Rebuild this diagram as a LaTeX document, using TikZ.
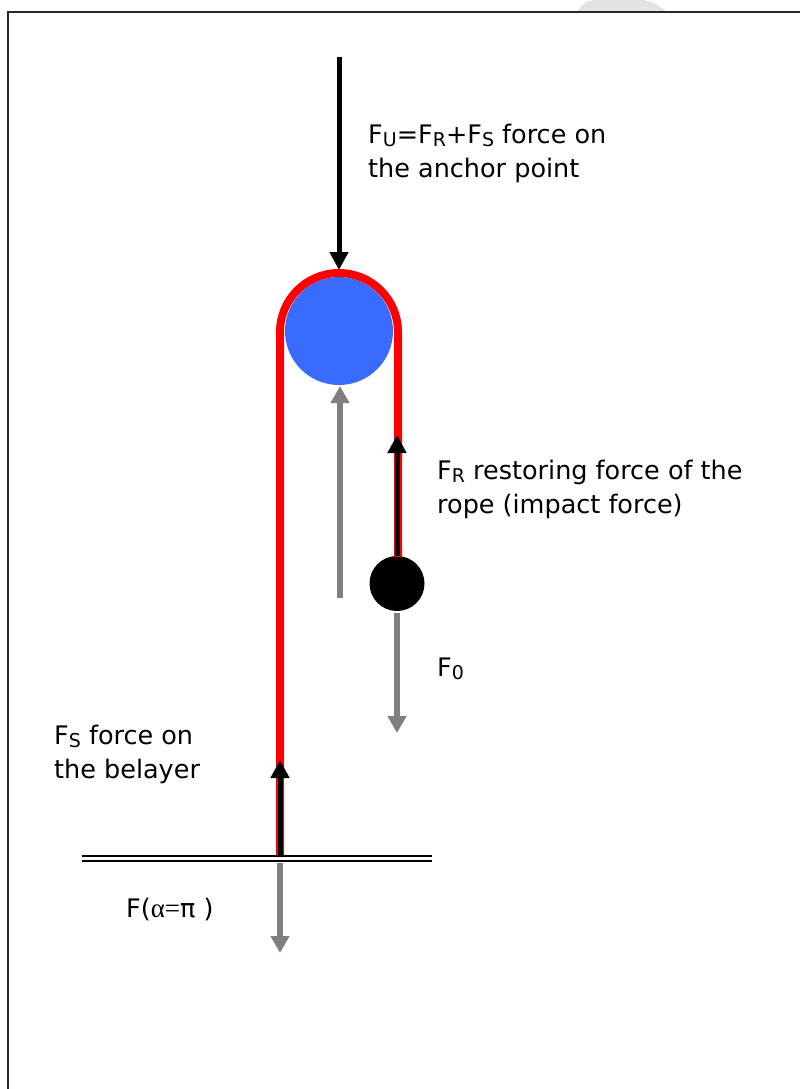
\documentclass[tikz,border=0pt]{standalone}
\usepackage{fontspec}
\setmainfont{DejaVu Sans}
\newfontfamily\symf{Liberation Serif}
\usetikzlibrary{arrows.meta}
\definecolor{pulleyblue}{RGB}{58,107,255}
\definecolor{ropered}{RGB}{255,0,0}
\definecolor{forcegray}{RGB}{128,128,128}
\newcommand\sbs[1]{\raisebox{-3pt}{\fontsize{19}{19}\selectfont #1}}
\tikzset{
  lbl/.style={anchor=base west, inner sep=0pt, align=left, font=\fontsize{25.5}{34}\selectfont},
  rope/.style={draw=ropered, line width=8pt},
  blackforce/.style={draw=black, line width=5pt, -{Triangle[width=18pt,length=18pt]}},
  grayforce/.style={draw=forcegray, line width=6pt, -{Triangle[width=18pt,length=17pt]}},
}
\begin{document}
\begin{tikzpicture}[x=1pt,y=-1pt]
\useasboundingbox (0,0) rectangle (800,1089);
% faint mark at top
\fill[gray!22] (577,12) .. controls (584,2) .. (600,-1) -- (640,-1) .. controls (656,3) .. (667,12) -- cycle;
% frame
\draw[line width=2pt, draw=black!85] (8,1090) -- (8,12) -- (801,12);
% ground
\coordinate (g1) at (82,855.5);
\coordinate (g2) at (432,855.5);
\coordinate (g3) at (82,860.5);
\coordinate (g4) at (432,860.5);
\draw[line width=2pt] (g1) -- (g2);
\draw[line width=2pt] (g3) -- (g4);
% pulley and mass
\node[circle, fill=pulleyblue, minimum size=108pt, inner sep=0pt] (pulley) at (339,331) {};
\node[circle, fill=black, minimum size=55pt, inner sep=0pt] (mass) at (397,583.5) {};
% rope
\coordinate (ropeL) at (280,855);
\coordinate (ropeR) at (398,557);
\draw[rope] (ropeL) -- (280,332) arc[start angle=180, end angle=360, radius=59] -- (ropeR);
% force arrows
\coordinate (topstart) at (339,57);
\coordinate (toptip) at (339,270);
\draw[blackforce] (topstart) -- (toptip);
\coordinate (frtip) at (397,435);
\draw[blackforce] (mass.north) -- (frtip);
\coordinate (fstip) at (280,760);
\draw[blackforce] (ropeL) -- (fstip);
\coordinate (grayup0) at (340,598);
\coordinate (grayup1) at (340,386);
\draw[grayforce] (grayup0) -- (grayup1);
\coordinate (f0start) at (397,613);
\coordinate (f0tip) at (397,733);
\draw[grayforce] (f0start) -- (f0tip);
\coordinate (fa0) at (280,863);
\coordinate (fatip) at (280,953);
\draw[grayforce] (fa0) -- (fatip);
% labels
\node[lbl] (lblU) at (368,177) {F\sbs{U}=F\sbs{R}+F\sbs{S} force on\\the anchor point};
\node[lbl] (lblR) at (437,513) {F\sbs{R} restoring force of the\\rope (impact force)};
\node[lbl] (lbl0) at (437,676) {F\sbs{0}};
\node[lbl] (lblS) at (54,778) {F\sbs{S} force on\\the belayer};
\node[lbl] (lblA) at (126,917) {F({\symf\fontsize{27}{34}\selectfont α=}π )};
\end{tikzpicture}
\end{document}
